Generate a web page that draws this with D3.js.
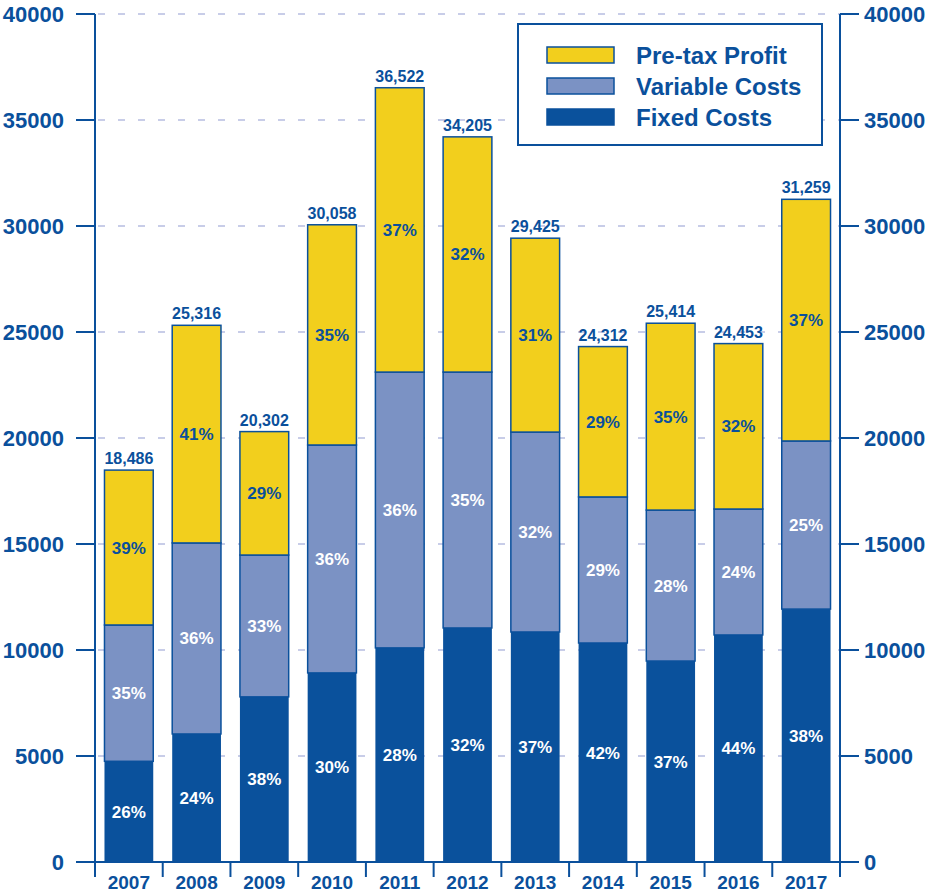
<!DOCTYPE html>
<html>
<head>
<meta charset="utf-8">
<script src="https://cdn.jsdelivr.net/npm/d3@7"></script>
<style>
  body { margin: 0; background: #fff; }
  svg { display: block; font-family: "Liberation Sans", Arial, sans-serif; font-weight: bold; }
</style>
</head>
<body>
<svg id="viz" width="930" height="894"></svg>
<script>
// data
const years = ["2007","2008","2009","2010","2011","2012","2013","2014","2015","2016","2017"];
const fixedCosts    = [4750, 6040, 7790, 8920, 10100, 11040, 10850, 10330, 9480, 10710, 11930];
const variableCosts = [6430, 9010, 6690, 10750, 13010, 12070, 9430, 6890, 7120, 5940, 7930];
const totals        = [18486, 25316, 20302, 30058, 36522, 34205, 29425, 24312, 25414, 24453, 31259];
const fixedPct    = ["26%","24%","38%","30%","28%","32%","37%","42%","37%","44%","38%"];
const variablePct = ["35%","36%","33%","36%","36%","35%","32%","29%","28%","24%","25%"];
const profitPct   = ["39%","41%","29%","35%","37%","32%","31%","29%","35%","32%","37%"];
const yTicks = [0, 5000, 10000, 15000, 20000, 25000, 30000, 35000, 40000];

const DARK = "#0a509c";
const colors = { profit: "#f2cf1d", variable: "#7b92c4", fixed: "#0a519c" };

const margin = { left: 95, right: 90, top: 14, bottom: 32 };
const W = 930, H = 894;
const svg = d3.select("#viz");

const x = d3.scaleBand().domain(years).range([margin.left, W - margin.right]).paddingInner(0.28).paddingOuter(0.14);
const xEdge = d3.scaleLinear().domain([0, years.length]).range([margin.left, W - margin.right]);
const y = d3.scaleLinear().domain([0, 40000]).range([H - margin.bottom, margin.top]);

// grid
svg.append("g").selectAll("line")
  .data(yTicks.filter(d => d > 0))
  .join("line")
  .attr("x1", margin.left).attr("x2", W - margin.right)
  .attr("y1", d => y(d)).attr("y2", d => y(d))
  .attr("stroke", "#c8cde8").attr("stroke-width", 2)
  .attr("stroke-dasharray", "7,13").attr("stroke-dashoffset", -3);

// stacked bars
const rows = years.map((yr, i) => {
  const f = fixedCosts[i], v = variableCosts[i], t = totals[i];
  return [
    { yr, key: "fixed", y0: 0, y1: f, pct: fixedPct[i], tc: "#fff" },
    { yr, key: "variable", y0: f, y1: f + v, pct: variablePct[i], tc: "#fff" },
    { yr, key: "profit", y0: f + v, y1: t, pct: profitPct[i], tc: DARK }
  ];
}).flat();

svg.append("g").selectAll("rect")
  .data(rows)
  .join("rect")
  .attr("x", d => x(d.yr))
  .attr("width", x.bandwidth())
  .attr("y", d => y(d.y1))
  .attr("height", d => y(d.y0) - y(d.y1))
  .attr("fill", d => colors[d.key])
  .attr("stroke", d => d.key === "fixed" ? "none" : DARK)
  .attr("stroke-width", 1.5);

svg.append("g").selectAll("text")
  .data(rows)
  .join("text")
  .attr("x", d => x(d.yr) + x.bandwidth() / 2)
  .attr("y", d => (y(d.y0) + y(d.y1)) / 2 + 6)
  .attr("text-anchor", "middle")
  .attr("font-size", 17)
  .attr("fill", d => d.tc)
  .text(d => d.pct);

svg.append("g").selectAll("text")
  .data(years)
  .join("text")
  .attr("x", d => x(d) + x.bandwidth() / 2)
  .attr("y", (d, i) => y(totals[i]) - 6)
  .attr("text-anchor", "middle")
  .attr("font-size", 16)
  .attr("fill", DARK)
  .text((d, i) => d3.format(",")(totals[i]));

// axes
const axes = svg.append("g").attr("stroke", DARK).attr("stroke-width", 2);
axes.append("line").attr("x1", margin.left).attr("x2", margin.left).attr("y1", y(40000)).attr("y2", y(0));
axes.append("line").attr("x1", W - margin.right).attr("x2", W - margin.right).attr("y1", y(40000)).attr("y2", y(0));
axes.append("line").attr("x1", margin.left).attr("x2", W - margin.right).attr("y1", y(0)).attr("y2", y(0));
axes.selectAll(".lt").data(yTicks).join("line")
  .attr("x1", margin.left - 19).attr("x2", margin.left).attr("y1", d => y(d)).attr("y2", d => y(d));
axes.selectAll(".rt").data(yTicks).join("line").attr("class", "rt")
  .attr("x1", W - margin.right).attr("x2", W - margin.right + 19).attr("y1", d => y(d)).attr("y2", d => y(d));
axes.selectAll(".bt").data(d3.range(years.length + 1)).join("line").attr("class", "bt")
  .attr("x1", d => xEdge(d)).attr("x2", d => xEdge(d)).attr("y1", y(0)).attr("y2", y(0) + 15);

svg.append("g").selectAll("text").data(yTicks).join("text")
  .attr("x", 64).attr("y", d => y(d) + 8)
  .attr("text-anchor", "end").attr("font-size", 22).attr("fill", DARK)
  .text(d => d);
svg.append("g").selectAll("text").data(yTicks).join("text")
  .attr("x", W - margin.right + 24).attr("y", d => y(d) + 8)
  .attr("text-anchor", "start").attr("font-size", 22).attr("fill", DARK)
  .text(d => d);
svg.append("g").selectAll("text").data(years).join("text")
  .attr("x", d => x(d) + x.bandwidth() / 2).attr("y", y(0) + 27)
  .attr("text-anchor", "middle").attr("font-size", 19).attr("fill", DARK)
  .text(d => d);

// legend
const legendItems = [
  { label: "Pre-tax Profit", key: "profit" },
  { label: "Variable Costs", key: "variable" },
  { label: "Fixed Costs", key: "fixed" }
];
const lg = svg.append("g");
lg.append("rect").attr("x", 518).attr("y", 24).attr("width", 304).attr("height", 121)
  .attr("fill", "#fff").attr("stroke", DARK).attr("stroke-width", 2);
const li = lg.selectAll("g").data(legendItems).join("g")
  .attr("transform", (d, i) => `translate(0,${47 + i * 31})`);
li.append("rect").attr("x", 547).attr("y", 0).attr("width", 67).attr("height", 16)
  .attr("fill", d => colors[d.key]).attr("stroke", DARK).attr("stroke-width", 1.5);
li.append("text").attr("x", 636).attr("y", 17).attr("font-size", 24).attr("fill", DARK)
  .text(d => d.label);
</script>
</body>
</html>
